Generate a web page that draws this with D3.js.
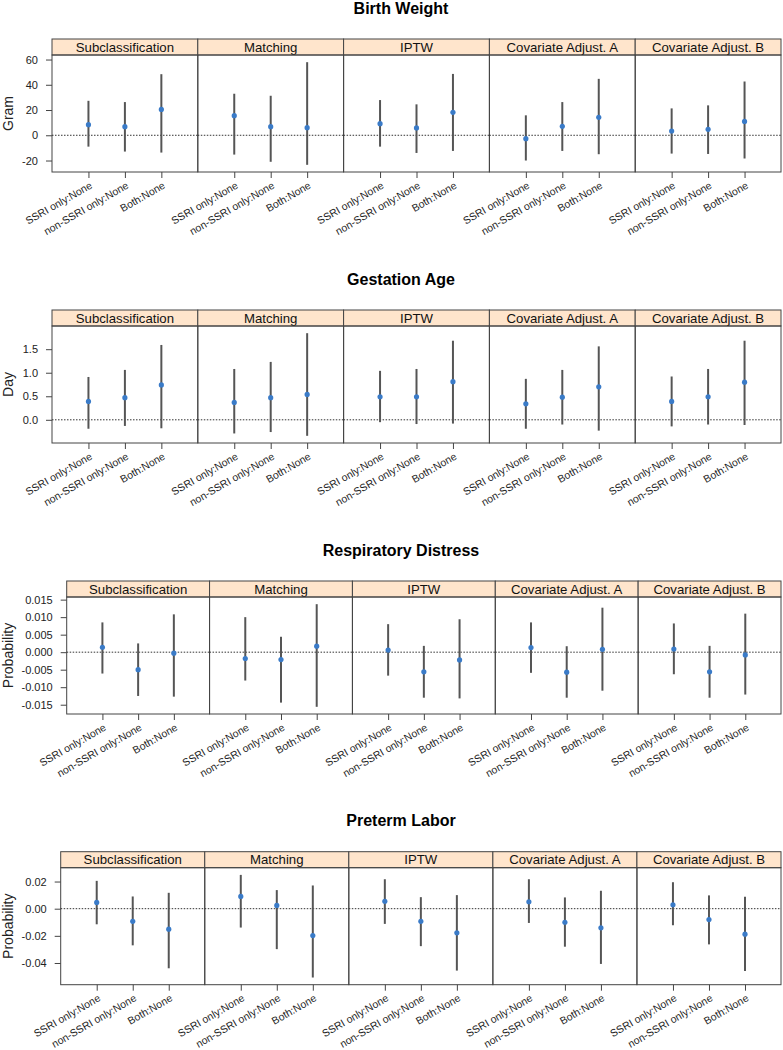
<!DOCTYPE html>
<html>
<head>
<meta charset="utf-8">
<script src="https://cdn.jsdelivr.net/npm/d3@7"></script>
<style>
  body { margin: 0; background: #fff; }
  svg { font-family: "Liberation Sans", Arial, Helvetica, sans-serif; }
</style>
</head>
<body>
<div id="chart"></div>
<script>
// methods (strips) and comparisons (x categories)
const methods = ["Subclassification", "Matching", "IPTW", "Covariate Adjust. A", "Covariate Adjust. B"];
const comparisons = ["SSRI only:None", "non-SSRI only:None", "Both:None"];

// one row per method, one value per comparison
const birthEst = [[8.4, 6.8, 20.5], [15.5, 6.8, 6.0], [9.2, 5.8, 18.2], [-2.7, 7.1, 14.2], [3.4, 4.7, 11.0]];
const birthLo  = [[-9.0, -12.9, -13.7], [-15.3, -21.0, -23.4], [-9.0, -14.0, -12.4], [-20.0, -12.4, -15.0], [-14.5, -14.8, -18.4]];
const birthHi  = [[27.3, 26.3, 48.4], [32.9, 31.3, 57.9], [27.9, 24.5, 48.6], [15.8, 26.3, 44.7], [21.3, 23.7, 42.6]];

const gestEst = [[0.39, 0.47, 0.74], [0.37, 0.47, 0.54], [0.49, 0.49, 0.81], [0.34, 0.48, 0.70], [0.39, 0.49, 0.80]];
const gestLo  = [[-0.19, -0.13, -0.18], [-0.29, -0.26, -0.34], [-0.05, -0.09, -0.08], [-0.19, -0.10, -0.23], [-0.14, -0.10, -0.11]];
const gestHi  = [[0.91, 1.06, 1.59], [1.08, 1.23, 1.84], [1.04, 1.08, 1.68], [0.87, 1.06, 1.56], [0.92, 1.08, 1.68]];

const respEst = [[0.0014, -0.0050, -0.0003], [-0.0018, -0.0021, 0.0017], [0.0006, -0.0056, -0.0022], [0.0013, -0.0057, 0.0008], [0.0009, -0.0056, -0.0008]];
const respLo  = [[-0.0061, -0.0125, -0.0127], [-0.0081, -0.0144, -0.0156], [-0.0067, -0.0130, -0.0132], [-0.0059, -0.0130, -0.0110], [-0.0063, -0.0130, -0.0121]];
const respHi  = [[0.0085, 0.0025, 0.0108], [0.0100, 0.0044, 0.0137], [0.0080, 0.0018, 0.0094], [0.0085, 0.0017, 0.0127], [0.0082, 0.0018, 0.0110]];

const pretEst = [[0.0046, -0.0093, -0.0151], [0.0090, 0.0024, -0.0198], [0.0054, -0.0093, -0.0178], [0.0051, -0.0100, -0.0141], [0.0029, -0.0080, -0.0188]];
const pretLo  = [[-0.0115, -0.0270, -0.0439], [-0.0139, -0.0298, -0.0507], [-0.0112, -0.0276, -0.0456], [-0.0105, -0.0280, -0.0407], [-0.0122, -0.0263, -0.0459]];
const pretHi  = [[0.0205, 0.0090, 0.0117], [0.0249, 0.0137, 0.0171], [0.0217, 0.0085, 0.0100], [0.0217, 0.0083, 0.0132], [0.0195, 0.0098, 0.0088]];

const blocks = [
  {title: "Birth Weight", ylab: "Gram", est: birthEst, lo: birthLo, hi: birthHi,
   ticks: [-20, 0, 20, 40, 60], fmt: d3.format("d"), top: 0, left: 52},
  {title: "Gestation Age", ylab: "Day", est: gestEst, lo: gestLo, hi: gestHi,
   ticks: [0, 0.5, 1, 1.5], fmt: d3.format(".1f"), top: 271, left: 52},
  {title: "Respiratory Distress", ylab: "Probability", est: respEst, lo: respLo, hi: respHi,
   ticks: [-0.015, -0.01, -0.005, 0, 0.005, 0.01, 0.015], fmt: d3.format(".3f"), top: 542, left: 66.7},
  {title: "Preterm Labor", ylab: "Probability", est: pretEst, lo: pretLo, hi: pretHi,
   ticks: [-0.04, -0.02, 0, 0.02], fmt: d3.format(".2f"), top: 812.7, left: 60.7}
];

const W = 783, H = 1050;
const right = 781;
const stripH = 16, plotH = 117;
const dotBlue = "#3a7bc8";
const fontFam = '"Liberation Sans", Arial, Helvetica, sans-serif';

const svg = d3.select("#chart").append("svg")
  .attr("width", W).attr("height", H);

blocks.forEach(b => {
  const g = svg.append("g").attr("transform", `translate(0,${b.top})`);
  const stripTop = 39, plotTop = stripTop + stripH, plotBot = plotTop + plotH;

  g.append("text")
    .attr("x", 401).attr("y", 8)
    .attr("dy", "0.35em")
    .attr("text-anchor", "middle")
    .style("font-weight", "bold")
    .style("font-size", "16px")
    .text(b.title);

  // lattice style limits: data range padded 7%
  const all = b.lo.flat().concat(b.hi.flat());
  const [mn, mx] = d3.extent(all);
  const pad = (mx - mn) * 0.07;
  const y = d3.scaleLinear().domain([mn - pad, mx + pad]).range([plotBot, plotTop]);

  const pw = (right - b.left) / methods.length;
  const px = d3.scaleBand().domain(methods).range([b.left, right]);
  const x = d3.scalePoint().domain(comparisons).range([0, pw]).padding(1);

  // y axis on the left of first panel
  const ya = g.append("g")
    .attr("transform", `translate(${b.left},0)`)
    .call(d3.axisLeft(y).tickValues(b.ticks).tickFormat(b.fmt).tickSize(6).tickPadding(8))
    .attr("font-family", fontFam);
  ya.select(".domain").remove();
  ya.selectAll("line").attr("stroke", "#444");
  ya.selectAll("text").style("font-size", "11px").attr("fill", "#222")
    .text(d => b.fmt(d).replace("−", "-"));

  g.append("text")
    .attr("transform", `translate(8,${(plotTop + plotBot) / 2}) rotate(-90)`)
    .attr("text-anchor", "middle")
    .attr("dy", "0.35em")
    .style("font-size", "14px")
    .attr("fill", "#222")
    .text(b.ylab);

  methods.forEach((m, mi) => {
    const p = g.append("g").attr("transform", `translate(${px(m)},0)`);

    // strip
    p.append("rect")
      .attr("x", 0).attr("y", stripTop).attr("width", pw).attr("height", stripH)
      .attr("fill", "#ffe5cc").attr("stroke", "#444").attr("stroke-width", 1);
    p.append("text")
      .attr("x", pw / 2).attr("y", stripTop + stripH / 2)
      .attr("dy", "0.36em")
      .attr("text-anchor", "middle")
      .style("font-size", "13.2px")
      .attr("fill", "#111")
      .text(m);

    // panel box
    p.append("rect")
      .attr("x", 0).attr("y", plotTop).attr("width", pw).attr("height", plotH)
      .attr("fill", "none").attr("stroke", "#444").attr("stroke-width", 1);

    // reference line at zero
    p.append("line")
      .attr("x1", 0).attr("x2", pw)
      .attr("y1", y(0)).attr("y2", y(0))
      .attr("stroke", "#333").attr("stroke-width", 1)
      .attr("stroke-dasharray", "1.5,1.5");

    // x axis
    const xa = p.append("g")
      .attr("transform", `translate(0,${plotBot})`)
      .call(d3.axisBottom(x).tickSize(6))
      .attr("font-family", fontFam);
    xa.select(".domain").remove();
    xa.selectAll("line").attr("stroke", "#444");
    xa.selectAll("text")
      .attr("y", null).attr("dy", null)
      .attr("dominant-baseline", "central")
      .attr("text-anchor", "end")
      .attr("transform", "translate(2,12) rotate(-30)")
      .style("font-size", "10.5px")
      .attr("fill", "#222");

    const rows = comparisons.map((c, ci) => ({
      c, est: b.est[mi][ci], lo: b.lo[mi][ci], hi: b.hi[mi][ci]
    }));

    p.selectAll("line.ci").data(rows).join("line")
      .attr("class", "ci")
      .attr("x1", d => x(d.c)).attr("x2", d => x(d.c))
      .attr("y1", d => y(d.lo)).attr("y2", d => y(d.hi))
      .attr("stroke", "#555").attr("stroke-width", 2);

    p.selectAll("circle").data(rows).join("circle")
      .attr("cx", d => x(d.c)).attr("cy", d => y(d.est))
      .attr("r", 2.6)
      .attr("fill", dotBlue);
  });
});
</script>
</body>
</html>
